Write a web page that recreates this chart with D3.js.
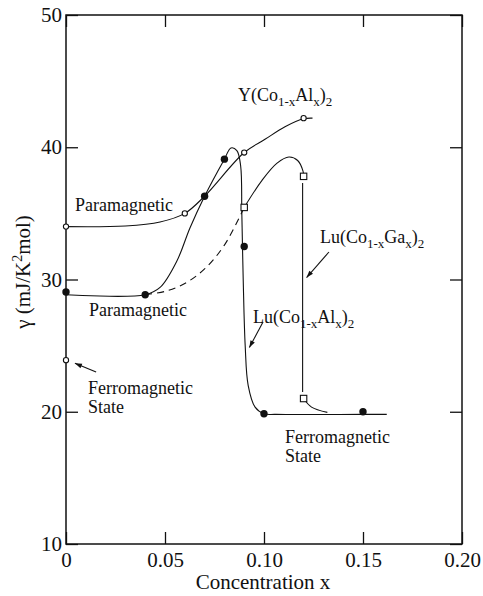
<!DOCTYPE html>
<html><head><meta charset="utf-8">
<script src="https://cdn.jsdelivr.net/npm/d3@7"></script>
<style>
html,body{margin:0;padding:0;background:#fff;}
svg{display:block;}
svg text{font-family:"Liberation Serif","Times New Roman","DejaVu Serif","Nimbus Roman",Times,serif !important;fill:#111;}
</style></head>
<body>
<svg id="chart" width="483" height="596"></svg>
<script>
// ---- ticks ----
const xTicks = [0, 0.05, 0.10, 0.15, 0.20];
const xTickLabels = ["0", "0.05", "0.10", "0.15", "0.20"];
const yTicks = [10, 20, 30, 40, 50];
const yTickLabels = ["10", "20", "30", "40", "50"];

// ---- measured points ----
// Y(Co1-xAlx)2 : open circles
const yAlX = [0, 0.06, 0.09, 0.12];
const yAlG = [34.0, 35.0, 39.6, 42.2];
const yAlFerroX = [0];
const yAlFerroG = [23.9];
// Lu(Co1-xAlx)2 : filled circles
const luAlX = [0, 0.04, 0.07, 0.08, 0.09, 0.10, 0.15];
const luAlG = [29.05, 28.85, 36.3, 39.1, 32.5, 19.85, 20.0];
// Lu(Co1-xGax)2 : open squares
const luGaX = [0.09, 0.12, 0.12];
const luGaG = [35.45, 37.8, 21.0];

// ---- guide curves ----
const yAlCurve = [[0,34.0],[0.03,34.05],[0.0475,34.35],[0.06,35.0],[0.07,36.3],[0.09,39.6],[0.1005,40.6],[0.1106,41.55],[0.12,42.15],[0.1245,42.2]];
const luAlCurve = [[0,28.85],[0.04,28.85],[0.0475,29.4],[0.056,31.4],[0.0626,33.9],[0.07,36.3],[0.08,39.1],[0.0833,39.95],[0.0863,39.75],[0.0882,38.6],[0.0888,35],[0.0895,30],[0.0905,25],[0.092,22],[0.0955,20.35],[0.1,19.85],[0.106,19.8],[0.15,19.8],[0.162,19.8]];
const luGaDashed = [[0.04,28.85],[0.05,29.1],[0.06,29.7],[0.07,30.8],[0.08,32.6],[0.09,35.45]];
const luGaCurve = [[0.09,35.45],[0.099,37.5],[0.1066,38.8],[0.1126,39.26],[0.117,39.0],[0.1197,38.2],[0.12,37.8]];
const luGaDrop = [[0.1195,37.3],[0.1195,21.5]];
const luGaTail = [[0.12,21.0],[0.124,20.35],[0.132,19.95]];

// ---- annotation arrows [from, to] ----
const arrows = [
  [[0.0152,23.0],[0.0045,23.66]],
  [[0.1328,32.08],[0.1215,30.15]],
  [[0.0995,26.79],[0.0926,24.85]]
];

const svg = d3.select("#chart");
const x = d3.scaleLinear().domain([0, 0.2]).range([66, 462]);
const y = d3.scaleLinear().domain([10, 50]).range([544, 15]);
const ink = "#111";

svg.append("defs").append("marker")
  .attr("id","ah").attr("viewBox","0 0 10 10").attr("refX",10).attr("refY",5)
  .attr("markerWidth",9).attr("markerHeight",7).attr("markerUnits","userSpaceOnUse")
  .attr("orient","auto")
  .append("path").attr("d","M0,1.5 L10,5 L0,8.5 Z").attr("fill",ink);

// axes with inward ticks
const tickLen = 12;
const gB = svg.append("g").attr("transform",`translate(0,${y(10)})`)
  .call(d3.axisBottom(x).tickValues(xTicks).tickFormat((d,i)=>xTickLabels[i]).tickSize(-tickLen).tickSizeOuter(0).tickPadding(8));
const gT = svg.append("g").attr("transform",`translate(0,${y(50)})`)
  .call(d3.axisTop(x).tickValues(xTicks).tickFormat("").tickSize(-tickLen).tickSizeOuter(0));
const gL = svg.append("g").attr("transform",`translate(${x(0)},0)`)
  .call(d3.axisLeft(y).tickValues(yTicks).tickFormat((d,i)=>yTickLabels[i]).tickSize(-tickLen).tickSizeOuter(0).tickPadding(4));
const gR = svg.append("g").attr("transform",`translate(${x(0.2)},0)`)
  .call(d3.axisRight(y).tickValues(yTicks).tickFormat("").tickSize(-tickLen).tickSizeOuter(0));
[gB,gT,gL,gR].forEach(g=>{
  g.attr("font-family",null);
  g.select(".domain").remove();
  g.selectAll(".tick line").attr("stroke",ink).attr("stroke-width",1.3);
  g.selectAll(".tick text").attr("font-size",21).attr("fill",ink);
});
svg.append("rect").attr("x",x(0)).attr("y",y(50)).attr("width",x(0.2)-x(0)).attr("height",y(10)-y(50))
  .attr("fill","none").attr("stroke",ink).attr("stroke-width",1.5);

// axis titles
svg.append("text").attr("x",(x(0)+x(0.2))/2 - 1).attr("y",589).attr("text-anchor","middle")
  .attr("font-size",21).text("Concentration x");
const yt = svg.append("text").attr("transform","translate(30,272) rotate(-90)").attr("text-anchor","middle").attr("font-size",21);
yt.append("tspan").text("\u03b3 (mJ/K");
yt.append("tspan").attr("font-size",14).attr("dy",-8).text("2");
yt.append("tspan").attr("dy",8).text("mol)");

// curves
const lineCR = d3.line().x(d=>x(d[0])).y(d=>y(d[1])).curve(d3.curveCatmullRom.alpha(0.5));
const lineLin = d3.line().x(d=>x(d[0])).y(d=>y(d[1]));
const curves = svg.append("g").attr("fill","none").attr("stroke",ink).attr("stroke-width",1.1);
curves.append("path").attr("d",lineCR(yAlCurve));
curves.append("path").attr("d",lineCR(luAlCurve));
curves.append("path").attr("d",lineCR(luGaDashed)).attr("stroke-dasharray","7,5");
curves.append("path").attr("d",lineCR(luGaCurve));
curves.append("path").attr("d",lineLin(luGaDrop));
curves.append("path").attr("d",lineCR(luGaTail));

// arrows
svg.append("g").selectAll("line").data(arrows).join("line")
  .attr("x1",d=>x(d[0][0])).attr("y1",d=>y(d[0][1]))
  .attr("x2",d=>x(d[1][0])).attr("y2",d=>y(d[1][1]))
  .attr("stroke",ink).attr("stroke-width",1.1).attr("marker-end","url(#ah)");

// markers
const pts = (xs,gs)=>xs.map((v,i)=>[v,gs[i]]);
svg.append("g").selectAll("circle").data(pts(luAlX,luAlG)).join("circle")
  .attr("cx",d=>x(d[0])).attr("cy",d=>y(d[1])).attr("r",3.7).attr("fill",ink);
svg.append("g").selectAll("circle").data(pts(yAlX,yAlG).concat(pts(yAlFerroX,yAlFerroG))).join("circle")
  .attr("cx",d=>x(d[0])).attr("cy",d=>y(d[1])).attr("r",2.6).attr("fill","#fff").attr("stroke",ink).attr("stroke-width",1.1);
svg.append("g").selectAll("rect").data(pts(luGaX,luGaG)).join("rect")
  .attr("x",d=>x(d[0])-3.2).attr("y",d=>y(d[1])-3.2).attr("width",6.4).attr("height",6.4)
  .attr("fill","#fff").attr("stroke",ink).attr("stroke-width",1.1);

// text labels
function plain(px,py,str,fs){
  svg.append("text").attr("x",px).attr("y",py).attr("font-size",fs||18).text(str);
}
function formula(px,py,parts){
  const t = svg.append("text").attr("x",px).attr("y",py).attr("font-size",18);
  let shifted = false;
  parts.forEach(p=>{
    const s = t.append("tspan").text(p.t);
    if(p.sub && !shifted){ s.attr("dy",5).attr("font-size",13); shifted=true; }
    else if(p.sub){ s.attr("font-size",13); }
    else if(!p.sub && shifted){ s.attr("dy",-5); shifted=false; }
  });
}
plain(75,211,"Paramagnetic");
plain(89,316,"Paramagnetic");
plain(88,394,"Ferromagnetic",18);
plain(88,413,"State",18);
plain(285,443,"Ferromagnetic",18);
plain(285,462,"State",18);
formula(238,101,[{t:"Y(Co"},{t:"1-x",sub:1},{t:"Al"},{t:"x",sub:1},{t:")"},{t:"2",sub:1}]);
formula(320,243,[{t:"Lu(Co"},{t:"1-x",sub:1},{t:"Ga"},{t:"x",sub:1},{t:")"},{t:"2",sub:1}]);
formula(253,323,[{t:"Lu(Co"},{t:"1-x",sub:1},{t:"Al"},{t:"x",sub:1},{t:")"},{t:"2",sub:1}]);
</script>
</body></html>
